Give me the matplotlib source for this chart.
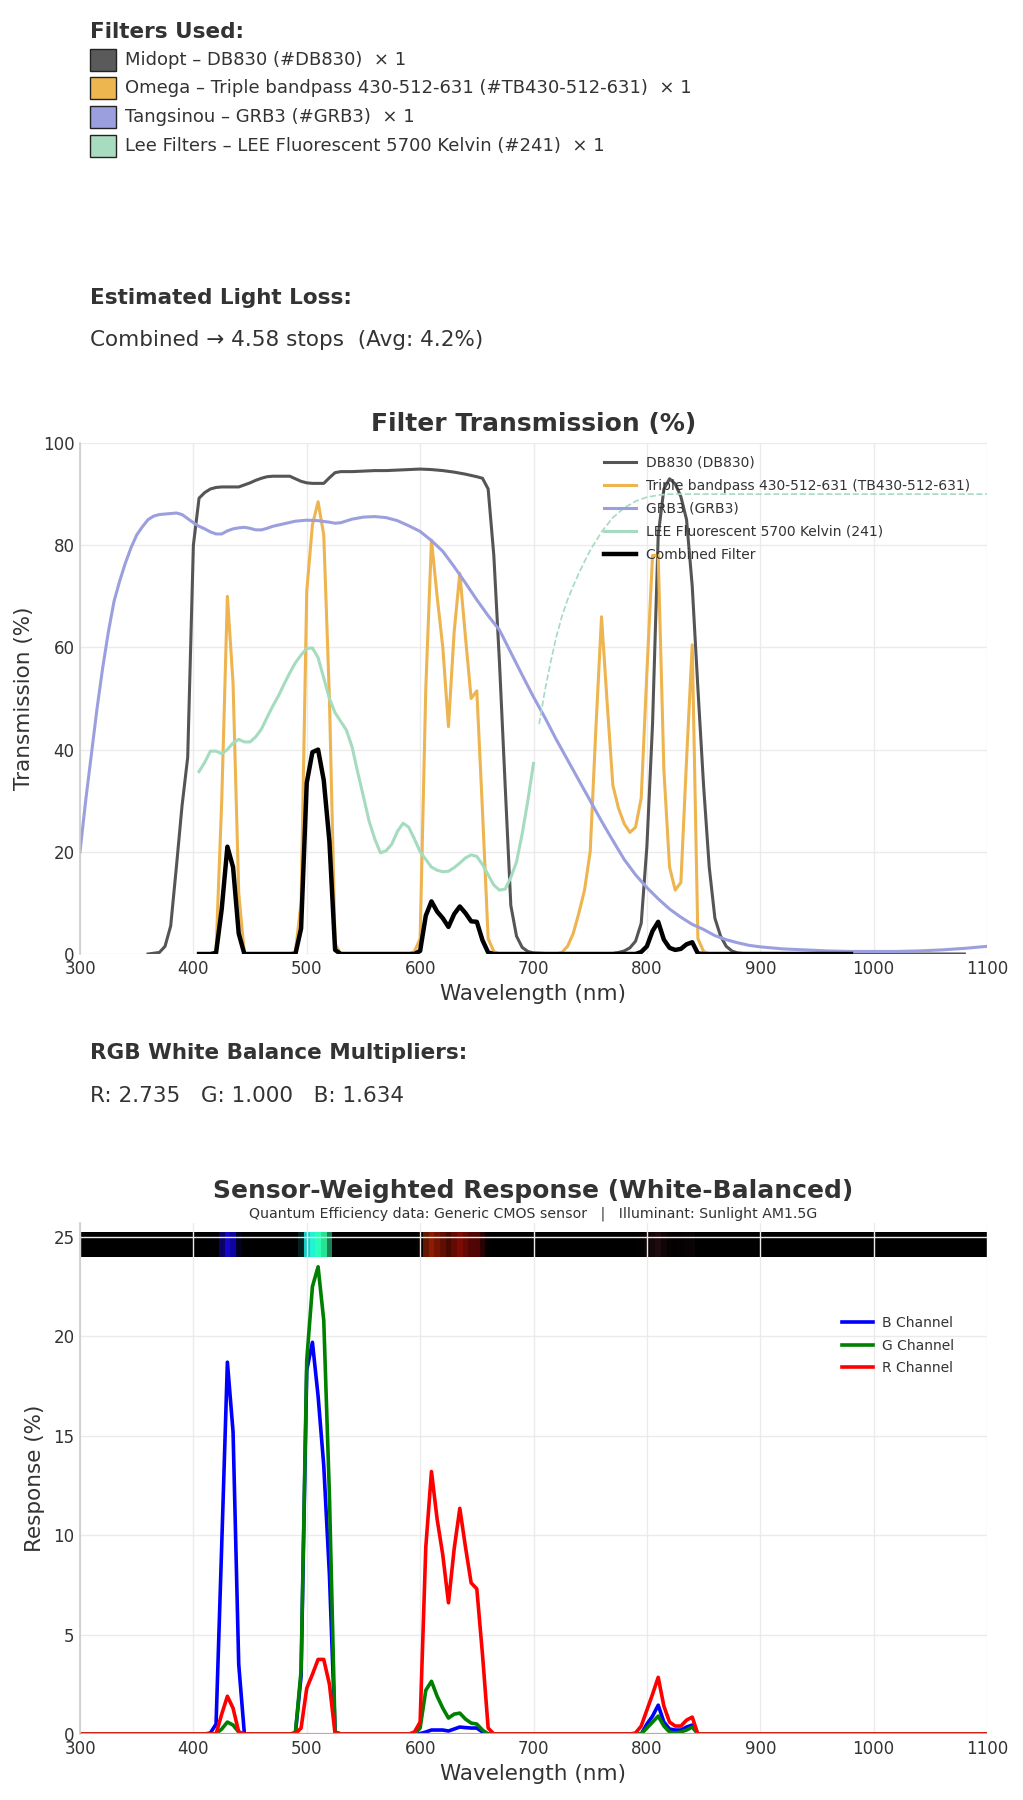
import numpy as np
import matplotlib
matplotlib.use('Agg')
import matplotlib.pyplot as plt
from matplotlib.patches import Rectangle

TXT = '#333333'

# ---- filter list (top panel) ----
filter_labels = ['Midopt \u2013 DB830 (#DB830)  \u00d7 1',
                 'Omega \u2013 Triple bandpass 430-512-631 (#TB430-512-631)  \u00d7 1',
                 'Tangsinou \u2013 GRB3 (#GRB3)  \u00d7 1',
                 'Lee Filters \u2013 LEE Fluorescent 5700 Kelvin (#241)  \u00d7 1']
filter_colors = ['#5a5a5a', '#EDB64F', '#9B9FDD', '#A8DCC0']
light_loss_text = 'Combined \u2192 4.58 stops  (Avg: 4.2%)'
wb_text = 'R: 2.735   G: 1.000   B: 1.634'

# ---- transmission curves (%) ----
db830_wl = [360, 370, 375, 380, 385, 390, 395, 400, 405, 410, 415, 420, 425, 430, 440, 445, 450, 455,
            460, 465, 470, 480, 485, 490, 495, 500, 505, 510, 515, 520, 525, 530, 540, 550, 560, 570,
            580, 590, 600, 610, 620, 630, 640, 650, 655, 660, 665, 670, 675, 680, 685, 690, 695, 700,
            710, 720, 770, 775, 780, 785, 790, 795, 800, 805, 810, 815, 820, 825, 830, 835, 840, 845,
            850, 855, 860, 865, 870, 875, 880, 890, 1080]
db830_t = [0, 0.3, 1.5, 5.5, 17, 29, 38.5, 80, 89.2, 90.3, 91, 91.3, 91.4, 91.4, 91.4, 91.8, 92.2, 92.7,
           93.1, 93.4, 93.5, 93.5, 93.5, 93.0, 92.5, 92.2, 92.1, 92.1, 92.1, 93.2, 94.2, 94.4, 94.4, 94.5,
           94.6, 94.6, 94.7, 94.8, 94.9, 94.8, 94.6, 94.3, 93.9, 93.4, 93.1, 91.0, 78, 57, 33, 9.5, 3.5,
           1.3, 0.5, 0.2, 0.1, 0, 0.1, 0.3, 0.6, 1.2, 2.5, 6, 21, 45, 82, 91, 93, 92, 89.5, 85, 72, 52,
           33, 17, 7, 3.5, 1.5, 0.6, 0.2, 0, 0]

tb_wl = [415, 420, 425, 430, 435, 440, 445, 485, 490, 495, 500, 505, 510, 515, 520, 525, 530, 590,
         595, 600, 605, 610, 615, 620, 625, 630, 635, 640, 645, 650, 655, 660, 665, 670, 720, 725,
         730, 735, 740, 745, 750, 755, 760, 765, 770, 775, 780, 785, 790, 795, 800, 805, 810, 815,
         820, 825, 830, 835, 840, 845, 850, 855, 900]
tb_t = [0, 0.5, 30, 70, 53, 12, 0, 0, 0.5, 10, 71, 84, 88.5, 82, 50, 2, 0, 0,
        0.5, 3, 52, 81, 70, 60, 44.5, 63, 74.5, 62, 50, 51.5, 28, 3, 0.5, 0, 0, 0.3,
        1.5, 4, 8, 12.5, 20, 44, 66, 49, 33, 28.5, 25.5, 23.8, 24.8, 30.5, 55, 78, 78, 36,
        17, 12.5, 14, 38, 60.5, 3, 0.5, 0, 0]

grb3_wl = [300, 305, 310, 315, 320, 325, 330, 335, 340, 345, 350, 355, 360, 365, 370, 380, 385, 390,
           395, 400, 405, 410, 415, 420, 425, 430, 435, 440, 445, 450, 455, 460, 465, 470, 480, 490,
           500, 510, 520, 525, 530, 540, 550, 560, 570, 580, 590, 600, 610, 620, 630, 640, 650, 660,
           670, 680, 690, 700, 710, 720, 730, 740, 750, 760, 770, 780, 790, 800, 810, 820, 830, 840,
           850, 860, 870, 880, 890, 900, 920, 940, 960, 980, 1000, 1020, 1040, 1060, 1080, 1100]
grb3_t = [20, 30, 39, 48, 56, 63, 69, 73, 76.5, 79.5, 82, 83.6, 85, 85.7, 86, 86.2, 86.3, 86,
          85.2, 84.4, 83.7, 83.2, 82.6, 82.2, 82.2, 82.8, 83.2, 83.4, 83.5, 83.3, 83.0, 83.0, 83.3,
          83.7, 84.2, 84.7, 84.9, 84.8, 84.5, 84.3, 84.4, 85.1, 85.5, 85.6, 85.4, 84.8, 83.8, 82.7,
          80.9, 78.8, 75.8, 72.6, 69.3, 66.2, 63.4, 59, 54.6, 50.3, 46.3, 42, 38, 34, 30, 26, 22.2,
          18.5, 15.5, 13, 10.8, 8.8, 7.2, 5.8, 4.8, 3.6, 2.8, 2.2, 1.7, 1.4, 1.0, 0.8, 0.6, 0.5, 0.5,
          0.5, 0.6, 0.8, 1.1, 1.5]

lee_wl = [405, 410, 415, 420, 425, 430, 435, 440, 445, 450, 455, 460, 465, 470, 475, 480, 485, 490,
          495, 500, 505, 510, 515, 520, 525, 530, 535, 540, 545, 550, 555, 560, 565, 570, 575, 580,
          585, 590, 595, 600, 605, 610, 615, 620, 625, 630, 635, 640, 645, 650, 655, 660, 665, 670,
          675, 680, 685, 690, 695, 700]
lee_t = [35.7, 37.5, 39.7, 39.7, 39.2, 40, 41.3, 42, 41.5, 41.5, 42.5, 44, 46.3, 48.5, 50.5, 52.8,
         55, 57, 58.5, 59.8, 59.9, 58, 54, 50, 47.2, 45.5, 43.8, 40.5, 35.5, 30.8, 26, 22.5, 19.8,
         20.2, 21.5, 24, 25.6, 24.8, 22.5, 20, 18.5, 17, 16.4, 16.1, 16.2, 16.9, 17.8, 18.8, 19.4,
         19.1, 17.5, 15.5, 13.5, 12.5, 12.7, 15, 18, 23.5, 30, 37.3]
lee_ext_wl = [705, 710, 715, 720, 725, 730, 735, 740, 745, 750, 760, 770, 780, 790, 800, 810, 820, 1100]
lee_ext_t = [45, 51.5, 57, 62, 66, 69.3, 72, 74.5, 76.8, 79, 82.6, 85.4, 87.3, 88.6, 89.4, 89.8, 90, 90]

comb_wl = [405, 415, 420, 425, 430, 435, 440, 445, 490, 495, 500, 505, 510, 515, 520, 525, 530,
           595, 600, 605, 610, 615, 620, 625, 630, 635, 640, 645, 650, 655, 660, 665, 790, 795,
           800, 805, 810, 815, 820, 825, 830, 835, 840, 845, 850, 980]
comb_t = [0, 0, 0.2, 8.8, 21, 17, 4, 0, 0, 5, 33.5, 39.5, 40, 34, 22, 0.8, 0,
          0, 0.6, 7.5, 10.3, 8.3, 7, 5.3, 7.8, 9.3, 8, 6.4, 6.3, 2.7, 0.3, 0, 0, 0.4,
          1.5, 4.5, 6.3, 2.8, 1.2, 0.8, 1.0, 1.9, 2.3, 0.1, 0, 0]

# ---- sensor-weighted response (%), 5 nm grid, values read where non-zero ----
resp_wl = np.arange(300, 1105, 5)
b_pts = {415: 0.05, 420: 0.5, 425: 9.5, 430: 18.7, 435: 15.2, 440: 3.5, 490: 0.05, 495: 2.9,
         500: 18.3, 505: 19.7, 510: 17, 515: 13.5, 520: 8, 525: 0.1, 600: 0.02, 605: 0.1, 610: 0.2,
         615: 0.2, 620: 0.2, 625: 0.15, 630: 0.25, 635: 0.35, 640: 0.32, 645: 0.3, 650: 0.3,
         655: 0.1, 800: 0.5, 805: 0.9, 810: 1.45, 815: 0.6, 820: 0.25, 825: 0.2, 830: 0.2,
         835: 0.35, 840: 0.45}
g_pts = {420: 0.02, 425: 0.25, 430: 0.6, 435: 0.45, 440: 0.1, 490: 0.05, 495: 3.2, 500: 18.8,
         505: 22.5, 510: 23.5, 515: 20.8, 520: 12, 525: 0.1, 600: 0.3, 605: 2.2, 610: 2.65,
         615: 1.9, 620: 1.3, 625: 0.8, 630: 1.0, 635: 1.05, 640: 0.75, 645: 0.55, 650: 0.5,
         655: 0.2, 800: 0.3, 805: 0.6, 810: 0.9, 815: 0.4, 820: 0.1, 825: 0.05, 830: 0.1,
         835: 0.2, 840: 0.35}
r_pts = {425: 1.0, 430: 1.9, 435: 1.3, 440: 0.1, 495: 0.3, 500: 2.3, 505: 3.0, 510: 3.75,
         515: 3.75, 520: 2.5, 595: 0.1, 600: 0.6, 605: 9.4, 610: 13.2, 615: 10.8, 620: 9.0,
         625: 6.6, 630: 9.3, 635: 11.35, 640: 9.4, 645: 7.6, 650: 7.3, 655: 4.0, 660: 0.3,
         790: 0.05, 795: 0.4, 800: 1.2, 805: 2.0, 810: 2.85, 815: 1.4, 820: 0.6, 825: 0.4,
         830: 0.4, 835: 0.7, 840: 0.85}


def on_grid(pts):
    arr = np.zeros(len(resp_wl))
    for w, v in pts.items():
        arr[int((w - 300) // 5)] = v
    return arr


def style_axes(ax):
    ax.set_facecolor('white')
    ax.grid(True, color='#EBEBEB', linewidth=1.0)
    ax.set_axisbelow(True)
    for s in ['top', 'right', 'bottom']:
        ax.spines[s].set_visible(False)
    ax.spines['left'].set_color('#CCCCCC')
    ax.spines['left'].set_linewidth(1.2)
    ax.tick_params(axis='both', labelsize=12, colors=TXT, length=0, pad=4)
    ax.set_xlim(300, 1100)
    ax.set_xticks(range(300, 1101, 100))
    ax.set_xlabel('Wavelength (nm)', fontsize=15.5, color=TXT, labelpad=5)


plt.rc('font', family='DejaVu Sans')
fig = plt.figure(figsize=(10.23, 18), dpi=100)
H = 1800.0
W = 1023.0


def fy(px):
    return 1 - px / H


# ---- header texts ----
HEAD = 15.5
fig.text(90 / W, fy(32), 'Filters Used:', fontsize=HEAD, fontweight='bold', color=TXT, va='center')
row_y = [60, 88, 117, 146]
for lab, col, yy in zip(filter_labels, filter_colors, row_y):
    fig.patches.append(Rectangle((90 / W, fy(yy + 11)), 26 / W, 22 / H, transform=fig.transFigure,
                                 facecolor=col, edgecolor='#222222', linewidth=1.0))
    fig.text(125 / W, fy(yy), lab, fontsize=13, color=TXT, va='center')

fig.text(90 / W, fy(298), 'Estimated Light Loss:', fontsize=HEAD, fontweight='bold', color=TXT, va='center')
fig.text(90 / W, fy(340), light_loss_text, fontsize=HEAD, color=TXT, va='center')

fig.text(90 / W, fy(1053), 'RGB White Balance Multipliers:', fontsize=HEAD, fontweight='bold', color=TXT, va='center')
fig.text(90 / W, fy(1096), wb_text, fontsize=HEAD, color=TXT, va='center')

# ---- transmission chart ----
ax1 = fig.add_axes([80 / W, fy(954), 907 / W, 511 / H])
style_axes(ax1)
ax1.plot(db830_wl, db830_t, color='#555555', lw=2.2, label='DB830 (DB830)')
ax1.plot(tb_wl, tb_t, color='#EDB44F', lw=2.2, label='Triple bandpass 430-512-631 (TB430-512-631)')
ax1.plot(grb3_wl, grb3_t, color='#9B9FDD', lw=2.2, label='GRB3 (GRB3)')
ax1.plot(lee_wl, lee_t, color='#A5DBBF', lw=2.2, label='LEE Fluorescent 5700 Kelvin (241)')
ax1.plot(lee_ext_wl, lee_ext_t, color='#A5DBBF', lw=1.2, ls='--')
ax1.plot(comb_wl, comb_t, color='black', lw=3.2, label='Combined Filter')
ax1.set_ylim(0, 100)
ax1.set_yticks(range(0, 101, 20))
ax1.set_ylabel('Transmission (%)', fontsize=15.5, color=TXT, labelpad=6)
ax1.set_title('Filter Transmission (%)', fontsize=18, fontweight='bold', color=TXT, pad=9)
leg = ax1.legend(loc='upper right', bbox_to_anchor=(0.995, 1.0), frameon=False, fontsize=10,
                 handlelength=2.3, handletextpad=0.7, labelspacing=0.65)
for t in leg.get_texts():
    t.set_color(TXT)

# ---- response chart ----
b_resp = on_grid(b_pts)
g_resp = on_grid(g_pts)
r_resp = on_grid(r_pts)

ax2 = fig.add_axes([80 / W, fy(1734), 907 / W, 511 / H])
style_axes(ax2)
peak = max(b_resp.max(), g_resp.max(), r_resp.max())
bar = np.stack([r_resp, g_resp, b_resp], axis=-1)[None, :, :] / peak
ax2.imshow(np.clip(bar, 0, 1), extent=(297.5, 1102.5, 24.0, 25.25), aspect='auto',
           interpolation='nearest', zorder=0)
ax2.plot(resp_wl, b_resp, color='blue', lw=2.6, label='B Channel')
ax2.plot(resp_wl, g_resp, color='green', lw=2.6, label='G Channel')
ax2.plot(resp_wl, r_resp, color='red', lw=2.6, label='R Channel')
ax2.axhline(0, color='#E89595', lw=1.6, zorder=3)
ax2.set_xlim(300, 1100)
ax2.set_ylim(0, 25.7)
ax2.set_yticks(range(0, 26, 5))
ax2.set_ylabel('Response (%)', fontsize=15.5, color=TXT, labelpad=6)
fig.text(533.5 / W, fy(1191), 'Sensor-Weighted Response (White-Balanced)', fontsize=18,
         fontweight='bold', color=TXT, ha='center', va='center')
fig.text(533.5 / W, fy(1214), 'Quantum Efficiency data: Generic CMOS sensor   |   Illuminant: Sunlight AM1.5G',
         fontsize=10.2, color=TXT, ha='center', va='center')
leg2 = ax2.legend(loc='upper right', bbox_to_anchor=(0.978, 0.842), frameon=False, fontsize=10,
                  handlelength=2.2, handletextpad=0.7, labelspacing=0.6)
for t in leg2.get_texts():
    t.set_color(TXT)

fig.savefig('out.png', dpi=100, facecolor='white')
